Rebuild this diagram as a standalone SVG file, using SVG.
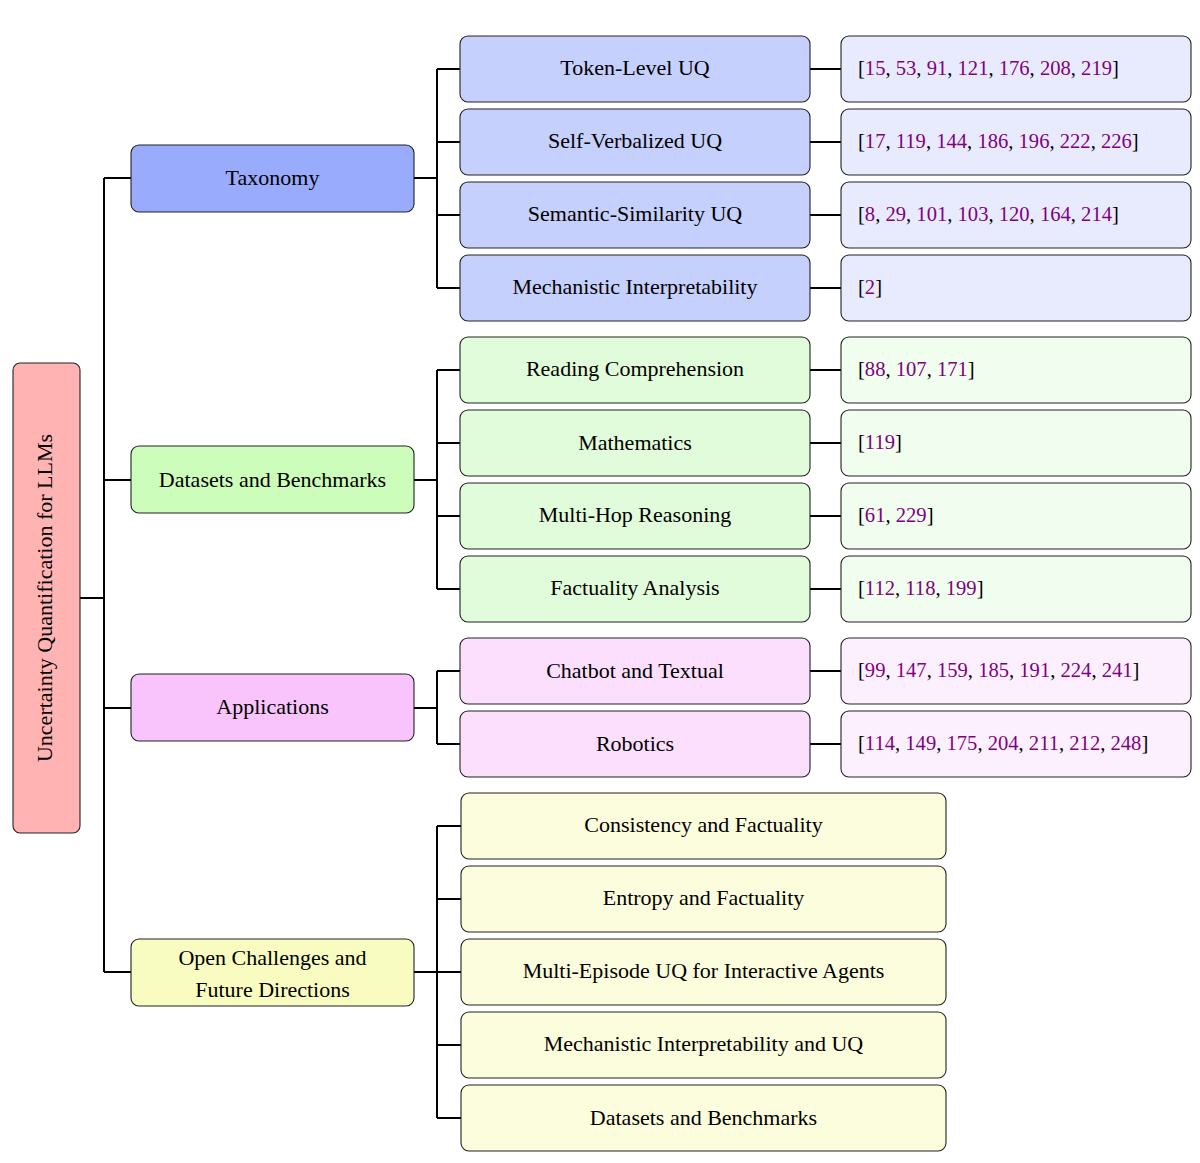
<svg xmlns="http://www.w3.org/2000/svg" width="1200" height="1163" viewBox="0 0 1200 1163">
<style>
text{font-family:"Liberation Serif","DejaVu Serif",serif;font-size:22px;fill:#000}
.cit{font-size:20.6px}
.b{stroke:#222;stroke-width:1.1}
.c{text-anchor:middle}
.r{fill:#800080}
.ln{fill:none;stroke:#000;stroke-width:2}
.root{fill:#ffb3b3}
.t1{fill:#99abfc}.t2{fill:#c6d0fd}.t3{fill:#e8ebfe}
.d1{fill:#ccfdbb}.d2{fill:#e1fcda}.d3{fill:#f1fdee}
.a1{fill:#f9c3fc}.a2{fill:#fbdffd}.a3{fill:#fdf0fe}
.o1{fill:#f9fcc0}.o2{fill:#fcfddd}
</style>
<rect width="1200" height="1163" fill="#fff"/>
<g id="connectors">
<path class="ln" d="M80 598H104M104 178V972M104 178H131M104 480H131M104 708H131M104 972H131"/>
<path class="ln" d="M414 178H437M437 69V288M437 69H460M437 142H460M437 215H460M437 288H460"/>
<path class="ln" d="M810 69H841M810 142H841M810 215H841M810 288H841"/>
<path class="ln" d="M414 480H437M437 370V589M437 370H460M437 443H460M437 516H460M437 589H460"/>
<path class="ln" d="M810 370H841M810 443H841M810 516H841M810 589H841"/>
<path class="ln" d="M414 708H437M437 671V744M437 671H460M437 744H460"/>
<path class="ln" d="M810 671H841M810 744H841"/>
<path class="ln" d="M414 972H437M437 826V1118M437 826H461M437 899H461M437 972H461M437 1045H461M437 1118H461"/>
</g>
<g id="root"><rect class="b root" x="13" y="363" width="67" height="470" rx="7"/><text class="c" transform="translate(52 598) rotate(-90)">Uncertainty Quantification for LLMs</text></g>
<g id="taxonomy"><rect class="b t1" x="131" y="145" width="283" height="67" rx="8"/><text class="c" x="272.5" y="185">Taxonomy</text></g>
<g id="datasets"><rect class="b d1" x="131" y="446" width="283" height="67" rx="8"/><text class="c" x="272.5" y="487">Datasets and Benchmarks</text></g>
<g id="applications"><rect class="b a1" x="131" y="674" width="283" height="67" rx="8"/><text class="c" x="272.5" y="714">Applications</text></g>
<g id="open"><rect class="b o1" x="131" y="939" width="283" height="67" rx="8"/><text class="c" x="272.5" y="965">Open Challenges and</text><text class="c" x="272.5" y="997">Future Directions</text></g>
<g id="tok"><rect class="b t2" x="460" y="36" width="350" height="66" rx="8"/><text class="c" x="635" y="75">Token-Level UQ</text></g>
<g id="selfv"><rect class="b t2" x="460" y="109" width="350" height="66" rx="8"/><text class="c" x="635" y="148">Self-Verbalized UQ</text></g>
<g id="sem"><rect class="b t2" x="460" y="182" width="350" height="66" rx="8"/><text class="c" x="635" y="221">Semantic-Similarity UQ</text></g>
<g id="mech"><rect class="b t2" x="460" y="255" width="350" height="66" rx="8"/><text class="c" x="635" y="294">Mechanistic Interpretability</text></g>
<g id="tok-ref"><rect class="b t3" x="841" y="36" width="350" height="66" rx="8"/><text class="cit" x="858" y="75">[<tspan class="r">15</tspan>, <tspan class="r">53</tspan>, <tspan class="r">91</tspan>, <tspan class="r">121</tspan>, <tspan class="r">176</tspan>, <tspan class="r">208</tspan>, <tspan class="r">219</tspan>]</text></g>
<g id="selfv-ref"><rect class="b t3" x="841" y="109" width="350" height="66" rx="8"/><text class="cit" x="858" y="148">[<tspan class="r">17</tspan>, <tspan class="r">119</tspan>, <tspan class="r">144</tspan>, <tspan class="r">186</tspan>, <tspan class="r">196</tspan>, <tspan class="r">222</tspan>, <tspan class="r">226</tspan>]</text></g>
<g id="sem-ref"><rect class="b t3" x="841" y="182" width="350" height="66" rx="8"/><text class="cit" x="858" y="221">[<tspan class="r">8</tspan>, <tspan class="r">29</tspan>, <tspan class="r">101</tspan>, <tspan class="r">103</tspan>, <tspan class="r">120</tspan>, <tspan class="r">164</tspan>, <tspan class="r">214</tspan>]</text></g>
<g id="mech-ref"><rect class="b t3" x="841" y="255" width="350" height="66" rx="8"/><text class="cit" x="858" y="294">[<tspan class="r">2</tspan>]</text></g>
<g id="read"><rect class="b d2" x="460" y="337" width="350" height="66" rx="8"/><text class="c" x="635" y="376">Reading Comprehension</text></g>
<g id="math"><rect class="b d2" x="460" y="410" width="350" height="66" rx="8"/><text class="c" x="635" y="450">Mathematics</text></g>
<g id="mhop"><rect class="b d2" x="460" y="483" width="350" height="66" rx="8"/><text class="c" x="635" y="522">Multi-Hop Reasoning</text></g>
<g id="fact"><rect class="b d2" x="460" y="556" width="350" height="66" rx="8"/><text class="c" x="635" y="595">Factuality Analysis</text></g>
<g id="read-ref"><rect class="b d3" x="841" y="337" width="350" height="66" rx="8"/><text class="cit" x="858" y="376">[<tspan class="r">88</tspan>, <tspan class="r">107</tspan>, <tspan class="r">171</tspan>]</text></g>
<g id="math-ref"><rect class="b d3" x="841" y="410" width="350" height="66" rx="8"/><text class="cit" x="858" y="449">[<tspan class="r">119</tspan>]</text></g>
<g id="mhop-ref"><rect class="b d3" x="841" y="483" width="350" height="66" rx="8"/><text class="cit" x="858" y="522">[<tspan class="r">61</tspan>, <tspan class="r">229</tspan>]</text></g>
<g id="fact-ref"><rect class="b d3" x="841" y="556" width="350" height="66" rx="8"/><text class="cit" x="858" y="595">[<tspan class="r">112</tspan>, <tspan class="r">118</tspan>, <tspan class="r">199</tspan>]</text></g>
<g id="chat"><rect class="b a2" x="460" y="638" width="350" height="66" rx="8"/><text class="c" x="635" y="678">Chatbot and Textual</text></g>
<g id="robot"><rect class="b a2" x="460" y="711" width="350" height="66" rx="8"/><text class="c" x="635" y="751">Robotics</text></g>
<g id="chat-ref"><rect class="b a3" x="841" y="638" width="350" height="66" rx="8"/><text class="cit" x="858" y="677">[<tspan class="r">99</tspan>, <tspan class="r">147</tspan>, <tspan class="r">159</tspan>, <tspan class="r">185</tspan>, <tspan class="r">191</tspan>, <tspan class="r">224</tspan>, <tspan class="r">241</tspan>]</text></g>
<g id="robot-ref"><rect class="b a3" x="841" y="711" width="350" height="66" rx="8"/><text class="cit" x="858" y="750">[<tspan class="r">114</tspan>, <tspan class="r">149</tspan>, <tspan class="r">175</tspan>, <tspan class="r">204</tspan>, <tspan class="r">211</tspan>, <tspan class="r">212</tspan>, <tspan class="r">248</tspan>]</text></g>
<g id="oc1"><rect class="b o2" x="461" y="793" width="485" height="66" rx="8"/><text class="c" x="703.5" y="832">Consistency and Factuality</text></g>
<g id="oc2"><rect class="b o2" x="461" y="866" width="485" height="66" rx="8"/><text class="c" x="703.5" y="905">Entropy and Factuality</text></g>
<g id="oc3"><rect class="b o2" x="461" y="939" width="485" height="66" rx="8"/><text class="c" x="703.5" y="978">Multi-Episode UQ for Interactive Agents</text></g>
<g id="oc4"><rect class="b o2" x="461" y="1012" width="485" height="66" rx="8"/><text class="c" x="703.5" y="1051">Mechanistic Interpretability and UQ</text></g>
<g id="oc5"><rect class="b o2" x="461" y="1085" width="485" height="66" rx="8"/><text class="c" x="703.5" y="1125">Datasets and Benchmarks</text></g>
</svg>
